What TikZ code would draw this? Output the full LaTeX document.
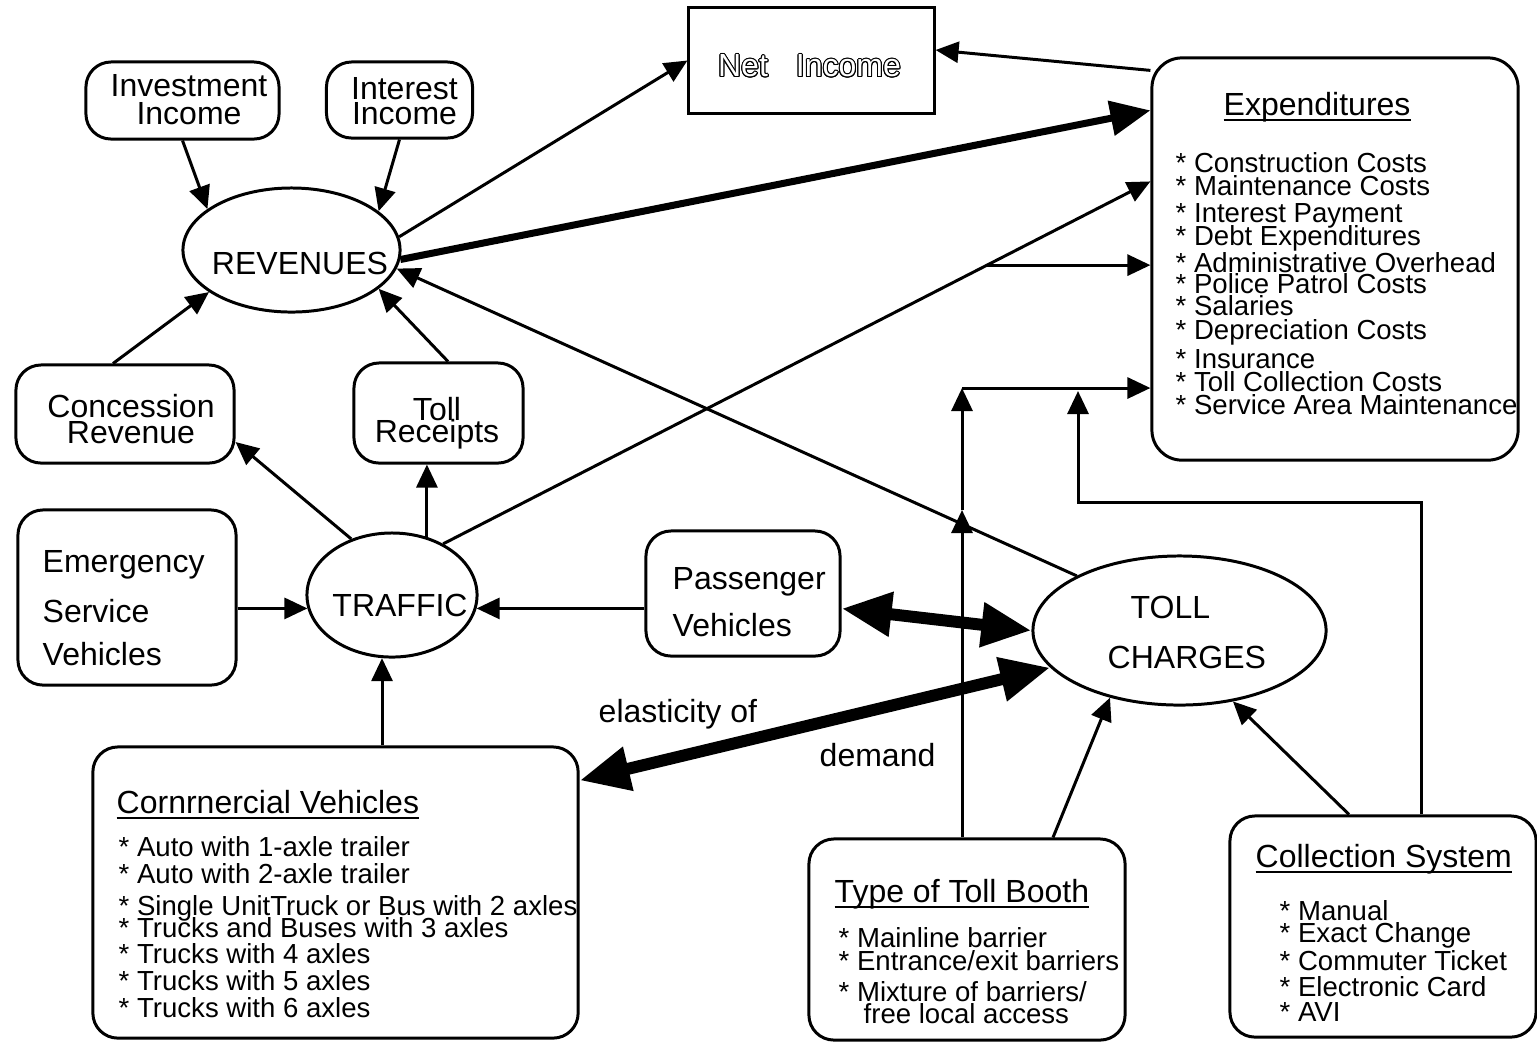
\documentclass[tikz,border=0pt]{standalone}
\usepackage{fontspec}
\setmainfont{Liberation Sans}
\usepackage{contour}
\contourlength{0.3pt}
\usetikzlibrary{arrows.meta,shapes.geometric,calc}

\newcommand\lblfont{\fontsize{9.1pt}{8pt}\selectfont\lineskiplimit=-20pt}
\newcommand\itemfont{\fontsize{7.84pt}{7pt}\selectfont\lineskiplimit=-20pt}
\newcommand\titleul[1]{\underline{\smash{#1}}}

\begin{document}
\begin{tikzpicture}[x=0.01cm, y=-0.01cm,
    box/.style={draw, line width=0.85pt, rounded corners=0.25cm, inner sep=0pt},
    oval/.style={draw, line width=0.85pt, ellipse, inner sep=0pt},
    lbl/.style={font=\lblfont, inner sep=0pt},
    item/.style={font=\itemfont, inner sep=0pt, align=left, anchor=north west},
    arr/.style={-{Triangle[length=0.23cm,width=0.21cm]}, line width=0.85pt},
    fatarr/.style={-{Triangle[length=0.4cm,width=0.34cm]}, line width=2pt},
    dblarr/.style={{Triangle[length=0.5cm,width=0.42cm]}-{Triangle[length=0.5cm,width=0.42cm]}, line width=3.4pt}
  ]
  \useasboundingbox (0,0) rectangle (1537,1041);

  % Revenue side
  \node[box, minimum width=1.93cm, minimum height=0.77cm] (inv) at (182.5,100.5) {};
  \node[lbl, align=center] (inv-t) at (189,99.5) {Investment\\Income};
  \node[box, minimum width=1.46cm, minimum height=0.76cm] (int) at (399.5,100) {};
  \node[lbl, align=center] (int-t) at (404.5,101) {Interest\\[-0.85pt]Income};
  \node[oval, minimum width=2.17cm, minimum height=1.24cm] (rev) at (291.5,250) {};
  \node[lbl] (rev-t) at (300,263) {REVENUES};
  \node[draw, line width=0.85pt, minimum width=2.45cm, minimum height=1.05cm] (net) at (811.5,60.5) {};
  \node[lbl] (net-t) at (809.5,66.5) {{\color{white}\contour{black}{Net\hspace{0.28cm}Income}}};
  \node[box, minimum width=2.18cm, minimum height=0.98cm] (conc) at (125,414) {};
  \node[lbl, align=center] (conc-t) at (131,419) {Concession\\[-0.85pt]Revenue};
  \node[box, minimum width=1.69cm, minimum height=1.00cm] (toll) at (438.5,413) {};
  \node[lbl, align=center] (toll-t) at (437,423) {Toll\\[-1.7pt]Receipts};

  % Expenditures
  \node[box, rounded corners=0.3cm, minimum width=3.66cm, minimum height=4.02cm] (exp) at (1335,259) {};
  \node[lbl, anchor=base west] (exp-t) at (1223,115) {\titleul{Expenditures}};
  \node[item, font={\itemfont\baselineskip=6.97pt}] (exp-l) at (1175,152) {%
    * Construction Costs\\[-0.43pt]
    * Maintenance Costs\\[0.63pt]
    * Interest Payment\\[-0.34pt]
    * Debt Expenditures\\[0.63pt]
    * Administrative Overhead\\[-0.91pt]
    * Police Patrol Costs\\[-0.71pt]
    * Salaries\\[-0.14pt]
    * Depreciation Costs\\[1.28pt]
    * Insurance\\[-0.43pt]
    * Toll Collection Costs\\[-0.43pt]
    * Service Area Maintenance};

  % Traffic side
  \node[box, minimum width=2.18cm, minimum height=1.75cm] (emerg) at (127,597.5) {};
  \node[lbl, align=left, anchor=west] (emerg-t) at (42,608) {Emergency\\[6.2pt]Service\\[4.2pt]Vehicles};
  \node[oval, minimum width=1.70cm, minimum height=1.24cm] (traffic) at (392,595) {};
  \node[lbl] (traffic-t) at (400,605.5) {TRAFFIC};
  \node[box, minimum width=1.94cm, minimum height=1.25cm] (pass) at (743,593.5) {};
  \node[lbl, align=left, anchor=west] (pass-t) at (672,602) {Passenger\\[5.37pt]Vehicles};
  \node[oval, minimum width=2.93cm, minimum height=1.49cm] (tc) at (1179.5,630.5) {};
  \node[lbl, align=left, anchor=west] (tc-t) at (1107,632.5) {\hspace*{0.23cm}TOLL\\[6.2pt]CHARGES};

  % Commercial vehicles
  \node[box, minimum width=4.85cm, minimum height=2.91cm] (comm) at (335.5,892.5) {};
  \node[lbl, anchor=base west] (comm-t) at (116,813) {\titleul{Cornrnercial Vehicles}};
  \node[item, font={\itemfont\baselineskip=7.68pt}] (comm-l) at (118,836) {%
    * Auto with 1-axle trailer\\
    * Auto with 2-axle trailer\\[1.3pt]
    * Single UnitTruck or Bus with 2 axles\\[-1.3pt]
    * Trucks and Buses with 3 axles\\[-0.4pt]
    * Trucks with 4 axles\\
    * Trucks with 5 axles\\
    * Trucks with 6 axles};

  % Toll booth and collection system
  \node[box, minimum width=3.16cm, minimum height=2.01cm] (booth) at (967,939.5) {};
  \node[lbl, anchor=base west] (booth-t) at (834,902) {\titleul{Type of Toll Booth}};
  \node[item, font={\itemfont\baselineskip=7.11pt}] (booth-l) at (838,927) {%
    * Mainline barrier\\[-0.57pt]
    * Entrance/exit barriers\\[1.7pt]
    * Mixture of barriers/\\[-0.85pt]
    \hspace*{0.25cm}free local access};
  \node[box, minimum width=3.06cm, minimum height=2.21cm] (coll) at (1383,926.5) {};
  \node[lbl, anchor=base west] (coll-t) at (1255,867) {\titleul{Collection System}};
  \node[item, font={\itemfont\baselineskip=7.11pt}] (coll-l) at (1279,900) {%
    * Manual\\[-1.0pt]
    * Exact Change\\[0.9pt]
    * Commuter Ticket\\[0.4pt]
    * Electronic Card\\
    * AVI};

  \node[lbl, anchor=base west] (elast) at (598,722) {elasticity of};
  \node[lbl, anchor=base west] (dem) at (819,766) {demand};

  % Arrows into revenues and net income
  \draw[arr] (inv.south) -- (rev.154);
  \draw[arr] (int.south) -- (rev.24);
  \draw[arr] ($(conc.north)+(-12,0)$) -- (rev.207);
  \draw[arr] ($(toll.north)+(9.5,0)$) -- (rev.336);
  \draw[arr] (rev.7) -- (net.west);
  \draw[fatarr] (rev.355) -- ($(exp.north west)+(0,54)$);
  \draw[arr] ($(exp.north west)+(0,14)$) -- ($(net.east)+(0,-10.5)$);
  \draw[arr] (tc.152) -- (rev.350);

  % Traffic links
  \draw[arr] (traffic.45) -- coordinate[pos=0.769] (br) ($(exp.north west)+(0,125)$);
  \draw[arr] (br) -- (br -| exp.west);
  \draw[arr] (emerg.east |- traffic.189) -- (traffic.189);
  \draw[arr] (pass.west |- traffic.351) -- (traffic.351);
  \draw[arr] (traffic.261 |- comm.north) -- (traffic.261);
  \draw[arr] (traffic.126) -- ($(conc.east)+(0,28)$);
  \draw[arr] (traffic.59) -- (traffic.59 |- toll.south);

  % Toll charges links
  \draw[dblarr] ($(pass.east)+(0,15)$) -- (tc.west);
  \draw[dblarr] ($(comm.north east)+(0,35)$) -- (tc.196);
  \draw[arr] ($(booth.north)+(86,0)$) -- (tc.224);
  \draw[arr] ($(coll.north)+(-34,0)$) -- (tc.307);

  % Booth and collection costs
  \coordinate (tb-mid) at (962,510);
  \coordinate (tb-top) at (962,388);
  \coordinate (cs-end) at (1078,391);
  \draw[arr] (booth.north -| tb-mid) -- (tb-mid);
  \draw[arr] (tb-mid) -- (tb-top);
  \draw[arr] (tb-top) -- (tb-top -| exp.west);
  \draw[arr] ($(coll.north)+(38,0)$) -- ++(0,-312) -| (cs-end);
\end{tikzpicture}
\end{document}
